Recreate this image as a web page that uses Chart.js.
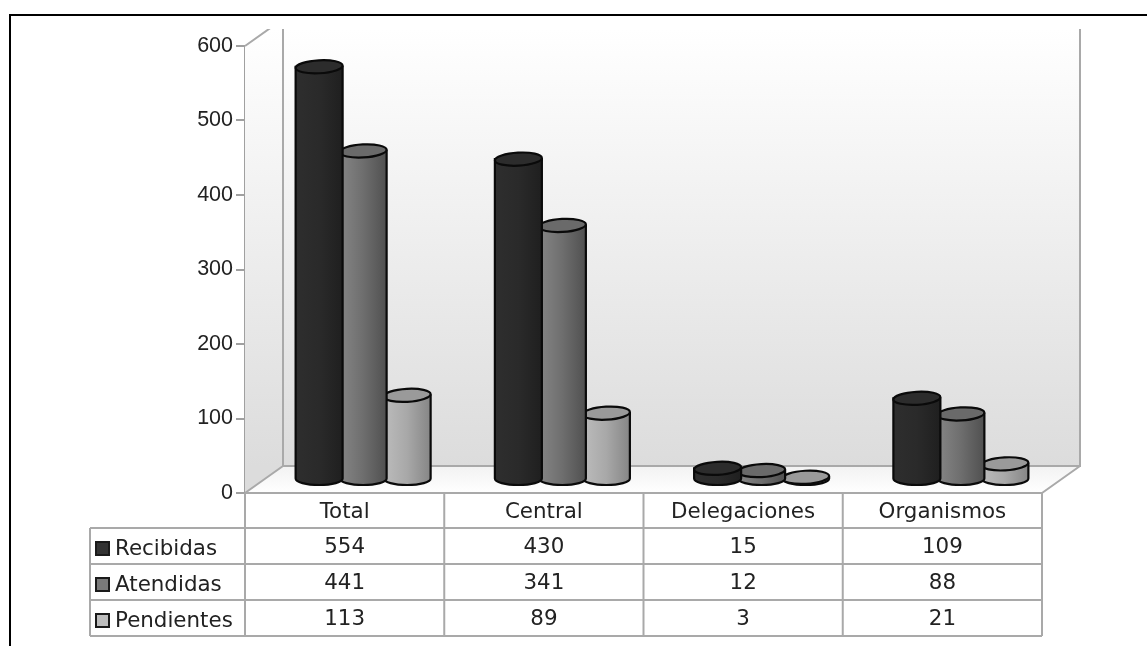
<!DOCTYPE html>
<html>
<head>
<meta charset="utf-8">
<title>Solicitudes</title>
<script src="https://cdn.jsdelivr.net/npm/chart.js@4/dist/chart.umd.min.js"></script>
<style>
	html, body { margin: 0; padding: 0; background: #fff; overflow: hidden; }
	#wrap { position: relative; width: 1147px; height: 646px; }
	#frame { position: absolute; left: 9px; top: 14px; width: 1147px; height: 700px; border-left: 2px solid #000; border-top: 2px solid #000; }
	canvas { position: absolute; left: 0; top: 0; }
</style>
</head>
<body>
<div id="wrap">
	<div id="frame"></div>
	<canvas id="chart" width="1147" height="646"></canvas>
</div>
<script>
const categories = ['Total', 'Central', 'Delegaciones', 'Organismos'];
const recibidas = [554, 430, 15, 109];
const atendidas = [441, 341, 12, 88];
const pendientes = [113, 89, 3, 21];
const seriesNames = ['Recibidas', 'Atendidas', 'Pendientes'];

// left, mid, right of the cylinder side, then lid colour
const shades = [
	['#2e2e2e', '#2a2a2a', '#1f1f1f', '#2c2c2c'],
	['#868686', '#6e6e6e', '#505050', '#6a6a6a'],
	['#bcbcbc', '#a8a8a8', '#868686', '#9a9a9a']
];
const swatches = ['#333333', '#7a7a7a', '#bdbdbd'];

const depthX = 38;
const depthY = 27;
const textFont = '21.4px "DejaVu Sans"';

function wallGradient(ctx, top, bottom) {
	let g = ctx.createLinearGradient(0, top, 0, bottom);
	g.addColorStop(0, '#ffffff');
	g.addColorStop(1, '#dcdcdc');
	return g;
}

const walls = {
	id: 'walls',
	beforeDatasetsDraw(chart) {
		const ctx = chart.ctx;
		const {left, right, top, bottom} = chart.chartArea;
		const backY = bottom - depthY;
		const topY = 29;
		ctx.save();
		ctx.beginPath();
		ctx.rect(0, topY, chart.width, chart.height - topY);
		ctx.clip();

		ctx.fillStyle = wallGradient(ctx, topY, backY);
		ctx.fillRect(left + depthX, topY, right - left, backY - topY);

		ctx.beginPath();
		ctx.moveTo(left, top);
		ctx.lineTo(left + depthX, top - depthY);
		ctx.lineTo(left + depthX, backY);
		ctx.lineTo(left, bottom);
		ctx.closePath();
		ctx.fill();

		let floor = ctx.createLinearGradient(0, backY, 0, bottom);
		floor.addColorStop(0, '#f2f2f2');
		floor.addColorStop(1, '#ffffff');
		ctx.fillStyle = floor;
		ctx.beginPath();
		ctx.moveTo(left, bottom);
		ctx.lineTo(left + depthX, backY);
		ctx.lineTo(right + depthX, backY);
		ctx.lineTo(right, bottom);
		ctx.closePath();
		ctx.fill();

		ctx.strokeStyle = '#a9a9a9';
		ctx.lineWidth = 2;
		ctx.beginPath();
		ctx.moveTo(left, top);
		ctx.lineTo(left + depthX, top - depthY);
		ctx.moveTo(left + depthX, topY);
		ctx.lineTo(left + depthX, backY);
		ctx.lineTo(right + depthX, backY);
		ctx.lineTo(right + depthX, topY);
		ctx.moveTo(left + depthX, backY);
		ctx.lineTo(left, bottom);
		ctx.moveTo(right + depthX, backY);
		ctx.lineTo(right, bottom);
		ctx.stroke();
		ctx.restore();
	}
};

function drawCylinder(ctx, bar, colors) {
	const w = bar.width + 3;
	const cx = bar.x + 18.5;
	const rx = w / 2;
	const ry = 6.5;
	const tilt = -0.055;
	const yTop = bar.y - 13.5;
	const yBase = bar.base - 13.5;

	let side = ctx.createLinearGradient(cx - rx, 0, cx + rx, 0);
	side.addColorStop(0, colors[0]);
	side.addColorStop(0.5, colors[1]);
	side.addColorStop(1, colors[2]);

	ctx.beginPath();
	ctx.moveTo(cx - rx, yTop);
	ctx.lineTo(cx - rx, yBase);
	ctx.ellipse(cx, yBase, rx, ry, 0, Math.PI, 0, true);
	ctx.lineTo(cx + rx, yTop);
	ctx.closePath();
	ctx.fillStyle = side;
	ctx.fill();
	ctx.strokeStyle = '#0a0a0a';
	ctx.lineWidth = 2.2;
	ctx.stroke();

	ctx.beginPath();
	ctx.ellipse(cx, yTop, rx, ry, tilt, 0, Math.PI * 2);
	ctx.fillStyle = colors[3];
	ctx.fill();
	ctx.stroke();
}

const cylinders = {
	id: 'cylinders',
	beforeDatasetDraw(chart, args) {
		const ctx = chart.ctx;
		ctx.save();
		args.meta.data.forEach(function(bar) {
			drawCylinder(ctx, bar.getProps(['x', 'y', 'base', 'width'], true), shades[args.index]);
		});
		ctx.restore();
		return false;
	}
};

const dataTable = {
	id: 'dataTable',
	afterDraw(chart) {
		const ctx = chart.ctx;
		const x = chart.scales.x;
		const {left, right, bottom} = chart.chartArea;
		const rows = [528, 564, 600, 636];
		const tableLeft = 90;
		const step = (right - left) / categories.length;

		ctx.save();
		ctx.strokeStyle = '#a9a9a9';
		ctx.lineWidth = 2;
		ctx.beginPath();
		ctx.moveTo(left, bottom);
		ctx.lineTo(right, bottom);
		rows.forEach(function(y) {
			ctx.moveTo(tableLeft, y);
			ctx.lineTo(right, y);
		});
		ctx.moveTo(tableLeft, rows[0]);
		ctx.lineTo(tableLeft, rows[3]);
		for (let i = 0; i <= categories.length; i++) {
			ctx.moveTo(left + step * i, bottom);
			ctx.lineTo(left + step * i, rows[3]);
		}
		ctx.stroke();

		ctx.font = textFont;
		ctx.textBaseline = 'middle';
		chart.data.datasets.forEach(function(ds, r) {
			const y = (rows[r] + rows[r + 1]) / 2;
			ctx.fillStyle = swatches[r];
			ctx.fillRect(96, y - 4, 13, 13);
			ctx.strokeStyle = '#1a1a1a';
			ctx.strokeRect(96, y - 4, 13, 13);
			ctx.fillStyle = '#222';
			ctx.textAlign = 'left';
			ctx.fillText(ds.label, 115, y + 3);
			ctx.textAlign = 'center';
			ds.data.forEach(function(v, i) {
				ctx.fillText(String(v), x.getPixelForValue(i), y + 1);
			});
		});
		ctx.restore();
	}
};

new Chart(document.getElementById('chart'), {
	type: 'bar',
	data: {
		labels: categories,
		datasets: [
			{label: seriesNames[0], data: recibidas, backgroundColor: swatches[0]},
			{label: seriesNames[1], data: atendidas, backgroundColor: swatches[1]},
			{label: seriesNames[2], data: pendientes, backgroundColor: swatches[2]}
		]
	},
	options: {
		responsive: false,
		animation: false,
		categoryPercentage: 0.6625,
		barPercentage: 1,
		layout: {padding: {top: 46, right: 105, left: 0, bottom: 0}},
		plugins: {legend: {display: false}, tooltip: {enabled: false}},
		scales: {
			x: {
				afterFit(scale) { scale.height = 153; },
				grid: {display: false, drawTicks: false},
				border: {display: false},
				ticks: {padding: 7, color: '#222', font: {family: '"DejaVu Sans"', size: 21.4}, maxRotation: 0}
			},
			y: {
				min: 0,
				max: 600,
				afterFit(scale) { scale.width = 245; },
				grid: {drawOnChartArea: false, color: '#a0a0a0', tickLength: 9, lineWidth: 2},
				border: {color: '#a0a0a0', width: 2.5},
				ticks: {stepSize: 100, padding: 3, color: '#222', font: {family: '"Liberation Sans"', size: 21.5}}
			}
		}
	},
	plugins: [walls, cylinders, dataTable]
});
</script>
</body>
</html>
